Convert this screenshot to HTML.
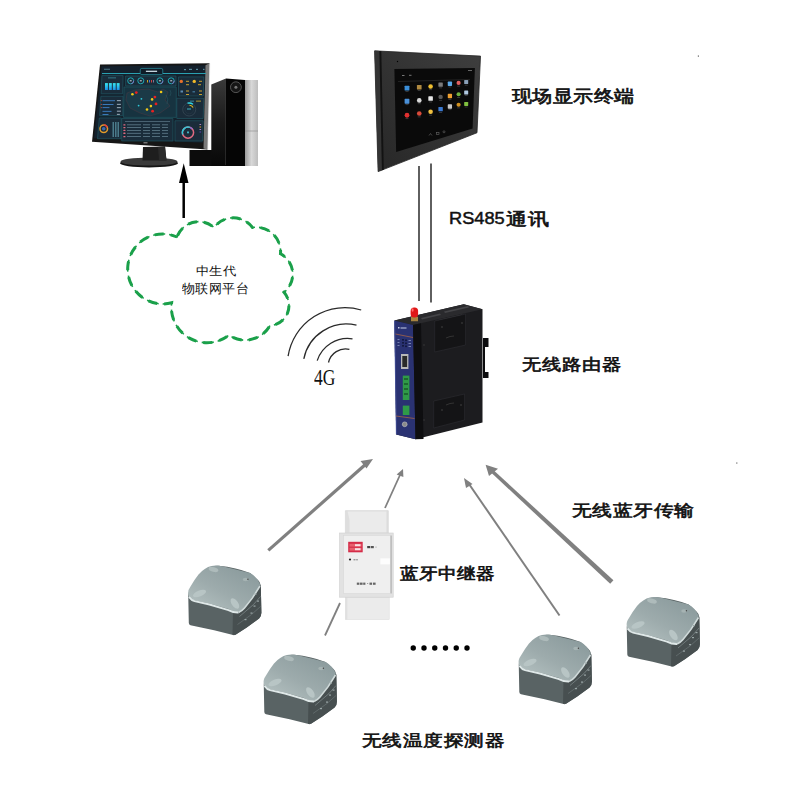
<!DOCTYPE html>
<html><head><meta charset="utf-8">
<style>
html,body{margin:0;padding:0;background:#fff;width:800px;height:800px;overflow:hidden}
svg{position:absolute;left:0;top:0}
.lb{position:absolute;font-family:"Liberation Sans",sans-serif;font-weight:normal;-webkit-text-stroke:0.8px #111;color:#111;white-space:nowrap;line-height:1;transform-origin:0 0}
.sf{position:absolute;font-family:"Liberation Serif",serif;color:#111;white-space:nowrap;line-height:1;transform-origin:0 0}
</style></head><body>
<svg width="800" height="800" viewBox="0 0 800 800">
<defs>
 <linearGradient id="towL" x1="0" y1="0" x2="0" y2="1"><stop offset="0" stop-color="#3a3a3a"/><stop offset="0.5" stop-color="#1a1a1a"/><stop offset="1" stop-color="#080808"/></linearGradient>
 <linearGradient id="frm" x1="0" y1="1" x2="1" y2="0"><stop offset="0" stop-color="#272727"/><stop offset="1" stop-color="#3e3e3e"/></linearGradient>
 <linearGradient id="silver" x1="0" x2="1" y1="0" y2="0">
  <stop offset="0" stop-color="#9a9a9a"/><stop offset="0.5" stop-color="#d8d8d8"/><stop offset="1" stop-color="#bdbdbd"/>
 </linearGradient>
 <linearGradient id="sTop" x1="0.9" y1="0.1" x2="0.2" y2="0.9">
  <stop offset="0" stop-color="#8a9a9c"/><stop offset="0.6" stop-color="#9dabac"/><stop offset="1" stop-color="#b0bdbd"/>
 </linearGradient>
 <linearGradient id="sFront" x1="0" y1="0" x2="1" y2="0">
  <stop offset="0" stop-color="#646e6f"/><stop offset="1" stop-color="#566061"/>
 </linearGradient>
 <g id="sensor">
  <path fill="#596364" d="M626.75,627 L627.3,654.5 Q627.5,656.5 629,656.8 L652.6,661.8 L670.6,666.3 Q672.5,667 674,666.3 L685.25,659 L697.6,650 Q700,647.5 699.9,644 L699.3,617 Q698.5,613 696.5,611.4 L688.6,604.6 Q675,599 657.1,597.3 Q651,597 647,599.6 Q640,604 635.75,610.25 Q631,617 629,621.5 Q626.5,624.5 626.75,627 Z"/>
  <path fill="#474f50" d="M671.5,643 L679.6,642.9 L683,639.5 L690.9,629.4 L697.6,619.25 L699.3,617 L699.9,644 Q700,647.5 697.6,650 L685.25,659 L674,666.3 L671,666.3 Z"/>
  <path fill="url(#sTop)" d="M626.75,626 Q626,622 629,618 Q633,611 637,606 Q643,599 650,597.5 Q655,596.5 662,598 L688.6,604.6 Q695,608 698.75,615.9 Q697,622 690.9,629.4 L683,639.5 Q681,642.5 676,643.5 Q672.5,643.5 667.25,640.6 L648.1,635 L631.25,631.6 Q627,629.5 626.75,626 Z"/>
  <path d="M627.5,628.5 Q630,632 633,632.6 L648,636 L667,641.6 Q672,644.2 677,644" fill="none" stroke="#dfe8e8" stroke-width="1.9"/>
  <path d="M677,644 Q681,642 683,639.5 L691,629.4 L698.5,617.5" fill="none" stroke="#d0dada" stroke-width="1.6"/>
  <path d="M678,648 L692,636 L699,628" fill="none" stroke="#7a8485" stroke-width="0.8"/>
  <path d="M676,656 L690,646 L699,638" fill="none" stroke="#6a7475" stroke-width="0.7"/>
  <ellipse cx="638" cy="625" rx="7" ry="3" fill="#b8c5c5" transform="rotate(-22 638 625)"/>
  <ellipse cx="673.4" cy="635" rx="3.2" ry="6" fill="#b8c5c5" transform="rotate(-35 673.4 635)"/>
  <ellipse cx="652" cy="601" rx="5" ry="2.3" fill="#aebbbb" transform="rotate(15 652 601)"/>
  <ellipse cx="684" cy="611" rx="2.8" ry="1.8" fill="#a6b3b3"/>
  <circle cx="686.4" cy="610.8" r="0.7" fill="#444"/>
  <g fill="#9aa6a6"><rect x="693" y="625" width="2" height="1.2"/><rect x="695.5" y="632" width="2" height="1.2"/><rect x="692" y="637" width="2" height="1.2"/><rect x="689" y="644" width="2" height="1.2"/><rect x="683" y="650.5" width="2" height="1.2"/></g>
 </g>
</defs>

<!-- ============ COMPUTER ============ -->
<g id="computer">
 <!-- tower -->
 <polygon fill="#0c0c0c" points="189.5,150 226,150 226,166 189.5,166"/>
 <polygon fill="url(#towL)" points="211.3,84.6 226,78.5 226,166 211.3,166"/>
 <line x1="225.5" y1="80" x2="225.5" y2="165" stroke="#3a3a3a" stroke-width="0.6"/>
 <polygon fill="#050505" points="226,78.5 245,80 245,166 226,166"/>
 <rect x="245" y="80" width="13" height="86" fill="url(#silver)"/>
 <line x1="245" y1="131" x2="258" y2="131" stroke="#8a8a8a" stroke-width="0.6"/>
 <circle cx="235.9" cy="87.2" r="5.4" fill="#151515" stroke="#555" stroke-width="1"/>
 <circle cx="235.9" cy="87.2" r="1.5" fill="#777"/>
 <!-- stand -->
 <ellipse cx="149" cy="163.2" rx="29" ry="4.2" fill="#151515"/>
 <ellipse cx="149" cy="161.6" rx="28.5" ry="4" fill="#3a3a3a"/>
 <polygon fill="#1e1e1e" points="143,147 165,146.5 166.5,160.5 142.5,160.5"/>
 <polygon fill="#2a2a2a" points="158,147 165,146.5 166.5,160.5 159,160.5"/>
 <!-- monitor bezel -->
 <polygon fill="#161616" points="100,64.5 209.5,63.3 207.5,149.5 92,141.8"/>
 <!-- screen -->
 <polygon fill="#14212d" points="101.5,66.3 205.5,65.3 202.8,142.8 94,138.2"/>
 <polygon fill="#7a7a7a" points="205.5,65.3 209.5,63.3 207.5,149.5 203.5,148.5"/>
 <line x1="209.8" y1="63.5" x2="207.8" y2="149.5" stroke="#e8e8e8" stroke-width="0.8"/>
 <g fill="#1a2c3a" stroke="#22616d" stroke-width="0.55">
  <polygon points="101.9,75.6 123.1,75.6 122.6,93.75 101.2,93.75"/>
  <polygon points="100.9,96.25 123.1,96.25 122.8,115.6 99.6,115.6"/>
  <polygon points="99.3,118 121.25,118 121,138.75 97.5,138.75"/>
  <polygon points="125.6,76 176,76 176,86 125.6,86"/>
  <polygon points="178.5,76.9 203.8,76.9 203.3,96 178.5,96"/>
  <polygon points="176.8,98.25 203.8,98.25 203.2,118.5 176.8,118.5"/>
  <polygon points="175,120.75 203.25,120.75 202.6,141 175,141"/>
  <polygon points="121.7,118.5 172.9,118.5 172.9,141 121.7,141"/>
 </g>
 <polygon fill="#173340" stroke="#22616d" stroke-width="0.55" points="124,87 176.25,87 176.25,117.4 123.5,117.4"/>
 <path d="M127,93 L135,90 L148,89 L158,92 L163,89 L168,92 L165,100 L170,106 L160,113 L150,116 L140,113 L130,108 L126,100 Z" fill="#1b3a47" stroke="#5a3a45" stroke-width="0.4"/>
 <path d="M166,95 q3,4 1,9 M170,90 q2,3 0,6" fill="none" stroke="#2a5a66" stroke-width="0.5"/>
 <line x1="102" y1="73.5" x2="140" y2="73.5" stroke="#2aa0b0" stroke-width="1"/>
 <line x1="163" y1="73.5" x2="206" y2="73.5" stroke="#2aa0b0" stroke-width="1"/>
 <rect x="140.25" y="68.4" width="22.5" height="6.2" rx="1.5" fill="#0f1c28" stroke="#2fa8b8" stroke-width="0.6"/>
 <rect x="145.9" y="70.7" width="11.2" height="1.2" fill="#d8e8f0"/>
 <g fill="#5a8a9a"><rect x="104" y="68.8" width="6" height="0.8"/><rect x="184" y="69" width="2" height="1.2"/><rect x="189" y="68.8" width="3" height="1.2"/><rect x="196" y="68.8" width="2" height="1.2"/><rect x="203" y="68.8" width="1.5" height="1.2"/></g>
 <defs><linearGradient id="cyb" x1="0" y1="0" x2="0" y2="1"><stop offset="0" stop-color="#38e8f0"/><stop offset="1" stop-color="#1a8ee8"/></linearGradient></defs>
 <g fill="url(#cyb)"><rect x="105" y="83.1" width="2.9" height="6.9"/><rect x="108.9" y="83.1" width="2.9" height="6.9"/><rect x="112.8" y="83.1" width="2.9" height="6.9"/><rect x="116.7" y="83.1" width="2.9" height="6.9"/></g>
 <rect x="108" y="77.5" width="8" height="0.8" fill="#3a8a9a"/>
 <g fill="#3a78b8"><rect x="102.5" y="100.2" width="12.5" height="1"/><rect x="102.5" y="104" width="11" height="1"/><rect x="102.5" y="107.1" width="7" height="1"/><rect x="102.5" y="110.85" width="9" height="1"/><rect x="102.5" y="114" width="6" height="1"/></g>
 <g fill="#8a9aa8"><rect x="116.9" y="100" width="4" height="1.2"/><rect x="116.9" y="103.8" width="4" height="1.2"/><rect x="116.9" y="107" width="4" height="1.2"/><rect x="116.9" y="110.6" width="4" height="1.2"/><rect x="116.9" y="113.8" width="3" height="1.2"/></g>
 <g fill="#c04a3a"><circle cx="101.3" cy="100.6" r="0.6"/><circle cx="101.3" cy="104.4" r="0.6"/><circle cx="101.3" cy="107.6" r="0.6"/></g>
 <circle cx="103.75" cy="128.75" r="3.8" fill="none" stroke="#e09a2a" stroke-width="1.5"/>
 <path d="M103.75,124.95 A3.8,3.8 0 0 1 107.3,127.4" fill="none" stroke="#e04040" stroke-width="1.5"/>
 <circle cx="103.75" cy="128.75" r="1.8" fill="#3c6ab0"/>
 <g fill="#4a7a8a"><rect x="112.5" y="122" width="1.5" height="15"/><rect x="115" y="122" width="1.5" height="15"/><rect x="117.5" y="122" width="1.5" height="15"/></g>
 <g fill="none" stroke="#1fb5c0" stroke-width="0.9"><circle cx="130.7" cy="80.8" r="3"/><circle cx="140.8" cy="80.8" r="3"/><circle cx="159.9" cy="80.8" r="3"/><circle cx="171.2" cy="80.8" r="3"/></g>
 <g fill="none" stroke="#8a6ac0" stroke-width="0.9"><path d="M133.7,80.8 A3,3 0 0 1 131.5,83.7"/><path d="M162.9,80.8 A3,3 0 0 1 160.7,83.7"/><path d="M174.2,80.8 A3,3 0 0 1 172,83.7"/></g>
 <g fill="#d0d8e0"><rect x="129.7" y="80.3" width="2" height="1"/><rect x="139.8" y="80.3" width="2" height="1"/><rect x="158.9" y="80.3" width="2" height="1"/><rect x="170.2" y="80.3" width="2" height="1"/></g>
 <g><rect x="147" y="80" width="1" height="2.5" fill="#c0a020"/><rect x="149" y="80" width="1" height="2.5" fill="#3a7ad0"/><rect x="151" y="80" width="1" height="2.5" fill="#d04040"/><rect x="153" y="80" width="1" height="2.5" fill="#7a7a9a"/></g>
 <g>
  <circle cx="136.3" cy="92.6" r="1.4" fill="#e82020"/><circle cx="132.4" cy="94.3" r="1.3" fill="#f0c818"/><circle cx="161.1" cy="92" r="1.3" fill="#f0c818"/>
  <circle cx="154.9" cy="97.1" r="1.4" fill="#e82020"/><circle cx="141.4" cy="98.8" r="0.9" fill="#30c8d8"/><circle cx="152.1" cy="99.4" r="1.3" fill="#f0c818"/>
  <circle cx="156" cy="103.9" r="1.4" fill="#e82020"/><circle cx="138.6" cy="105.6" r="0.9" fill="#30c8d8"/><circle cx="150.9" cy="106.1" r="1.3" fill="#f0c818"/>
  <circle cx="147" cy="109.5" r="1.3" fill="#f0c818"/><circle cx="152.6" cy="111.2" r="1.4" fill="#e82020"/>
 </g>
 <g fill="#e06a80"><rect x="123.3" y="124.2" width="2.2" height="1.3" rx="0.5"/><rect x="123.3" y="127" width="2.2" height="1.3" rx="0.5"/><rect x="123.3" y="129.8" width="2.2" height="1.3" rx="0.5"/><rect x="123.3" y="132.6" width="2.2" height="1.3" rx="0.5"/><rect x="123.3" y="136" width="2.2" height="1.3" rx="0.5"/></g>
 <g fill="#6a8898"><rect x="127" y="124.5" width="14" height="0.7"/><rect x="143" y="124.5" width="7" height="0.7"/><rect x="152" y="124.5" width="8" height="0.7"/><rect x="162" y="124.5" width="6" height="0.7"/>
  <rect x="127" y="127.3" width="14" height="0.7"/><rect x="143" y="127.3" width="7" height="0.7"/><rect x="152" y="127.3" width="8" height="0.7"/><rect x="162" y="127.3" width="6" height="0.7"/>
  <rect x="127" y="130.1" width="14" height="0.7"/><rect x="143" y="130.1" width="7" height="0.7"/><rect x="152" y="130.1" width="8" height="0.7"/><rect x="162" y="130.1" width="6" height="0.7"/>
  <rect x="127" y="132.9" width="14" height="0.7"/><rect x="143" y="132.9" width="7" height="0.7"/><rect x="152" y="132.9" width="8" height="0.7"/><rect x="162" y="132.9" width="6" height="0.7"/>
  <rect x="127" y="136.3" width="14" height="0.7"/><rect x="143" y="136.3" width="7" height="0.7"/><rect x="152" y="136.3" width="8" height="0.7"/><rect x="162" y="136.3" width="6" height="0.7"/>
  <rect x="125" y="121" width="45" height="0.6"/></g>
 <circle cx="181.3" cy="81.4" r="1.7" fill="#e8702a"/><circle cx="194.25" cy="81.4" r="1.7" fill="#f0b828"/>
 <g fill="#c8a030"><rect x="186" y="80.8" width="3" height="1"/><rect x="186" y="84.2" width="3" height="1"/><rect x="199" y="80.8" width="3" height="1"/><rect x="198" y="84.2" width="3" height="1"/><rect x="186" y="90.5" width="3" height="1"/><rect x="186" y="94" width="3" height="1"/><rect x="199" y="90.5" width="3" height="1"/><rect x="199" y="94" width="3" height="1"/></g>
 <rect x="180.5" y="90.5" width="2.5" height="2" fill="#5a8ab0"/><rect x="192.5" y="91" width="2.5" height="1.5" fill="#3a6a8a"/>
 <circle cx="189.2" cy="109.5" r="6.5" fill="none" stroke="#3a4a58" stroke-width="0.7"/>
 <circle cx="189.2" cy="109.5" r="4.3" fill="none" stroke="#2a3a48" stroke-width="0.6"/>
 <path d="M187.5,103.2 A6.5,6.5 0 0 1 193,104.3" fill="none" stroke="#30d8e8" stroke-width="1.3"/>
 <path d="M189.5,105.2 A4.3,4.3 0 0 1 193.1,107.6" fill="none" stroke="#e8c020" stroke-width="1.1"/>
 <rect x="187" y="108.5" width="4" height="1" fill="#40b0c0"/>
 <g fill="#40a0b0"><rect x="190" y="100.7" width="4" height="0.8"/><rect x="196" y="100.7" width="5" height="0.8" fill="#d0b030"/></g>
 <circle cx="188" cy="132.6" r="5.6" fill="none" stroke="#e06a80" stroke-width="1.5"/>
 <path d="M182.7,134.4 A5.6,5.6 0 0 1 190,127.4" fill="none" stroke="#30c8d8" stroke-width="1.5"/>
 <path d="M190,127.4 A5.6,5.6 0 0 1 192.3,129" fill="none" stroke="#8a70d0" stroke-width="1.5"/>
 <rect x="187" y="131.5" width="2" height="1.8" fill="#40b0c0"/>
 <g fill="#b080c0"><rect x="199.5" y="124" width="1.6" height="1"/><rect x="199.5" y="126.5" width="1.6" height="1" fill="#e0a030"/><rect x="199.5" y="129" width="1.6" height="1"/><rect x="199.5" y="131.5" width="1.6" height="1" fill="#6040b0"/></g>
 <rect x="143.5" y="142.2" width="4" height="1.2" fill="#8a8a8a"/>
</g>

<!-- black arrow -->
<line x1="183.7" y1="218" x2="183.7" y2="178" stroke="#000" stroke-width="2.5"/>
<polygon fill="#000" points="183.7,163.3 179,183 188.5,183"/>

<!-- cloud -->
<path d="M177.0,237.0 A23.0,23.0 0 0 1 214.0,227.5 A24.0,24.0 0 0 1 252.5,227.5 A24.5,24.5 0 0 1 280.5,253.8 A23.1,23.1 0 0 1 284.0,292.3 A20.1,20.1 0 0 1 270.0,325.6 A28.7,28.7 0 0 1 228.9,335.2 A35.6,35.6 0 0 1 171.6,302.8 A35.0,35.0 0 1 1 177.0,237.0 Z" fill="none" stroke="#1aa04a" stroke-width="1.6" stroke-dasharray="12 4"/>
<path d="M177.0,237.0 A23.0,23.0 0 0 1 214.0,227.5 A24.0,24.0 0 0 1 252.5,227.5 A24.5,24.5 0 0 1 280.5,253.8 A23.1,23.1 0 0 1 284.0,292.3 A20.1,20.1 0 0 1 270.0,325.6 A28.7,28.7 0 0 1 228.9,335.2 A35.6,35.6 0 0 1 171.6,302.8 A35.0,35.0 0 1 1 177.0,237.0 Z" fill="none" stroke="#1aa04a" stroke-width="3" stroke-dasharray="9 7" stroke-dashoffset="-1.5"/>

<!-- wifi -->
<g fill="none" stroke="#2a2a2a" stroke-width="1.3"><path d="M288.1,356.2 A57.5,57.5 0 0 1 361.2,310.0 "/><path d="M303.8,358.8 A43.5,43.5 0 0 1 356.5,325.2 "/><path d="M317.2,360.6 A32.0,32.0 0 0 1 352.5,338.8 "/><path d="M328.5,362.5 A17.5,17.5 0 0 1 349.4,349.4 "/></g>

<!-- ============ DISPLAY ============ -->
<polygon fill="url(#frm)" stroke="#262626" stroke-width="0.8" points="374.6,50.85 480.5,56.1 477,132.75 378.1,171.6"/>
<polygon fill="#343434" points="374.6,50.85 379.4,51.1 382,170.3 378.1,171.6"/>
<polygon fill="#121212" points="379.4,51.1 381.3,51.2 383.8,169.8 382,170.3"/>
<polygon fill="#0a0a0a" points="394.4,68.9 474.9,68 472.6,128.4 396.15,152"/>
<circle cx="397.5" cy="61.5" r="0.7" fill="#000"/>
<g id="apps">
 <rect x="404.60" y="85.70" width="4.80" height="4.80" rx="0.6" fill="#3b8fd9"/>
 <rect x="405.50" y="91.30" width="3" height="0.6" fill="#555"/>
 <rect x="416.92" y="84.92" width="4.67" height="4.67" rx="0.6" fill="#b08a40"/>
 <rect x="417.75" y="90.38" width="3" height="0.6" fill="#555"/>
 <circle cx="430.6" cy="86.4" r="2.27" fill="#f0c030"/>
 <rect x="429.10" y="89.47" width="3" height="0.6" fill="#555"/>
 <rect x="438.40" y="82.39" width="4.41" height="4.41" rx="0.6" fill="#7a7a7a"/>
 <rect x="439.10" y="87.60" width="3" height="0.6" fill="#555"/>
 <rect x="447.76" y="81.61" width="4.28" height="4.28" rx="0.6" fill="#5aa8e8"/>
 <rect x="448.40" y="86.69" width="3" height="0.6" fill="#555"/>
 <circle cx="458.6" cy="82.9" r="2.07" fill="#e06060"/>
 <rect x="457.10" y="85.78" width="3" height="0.6" fill="#555"/>
 <rect x="464.19" y="79.99" width="4.02" height="4.02" rx="0.6" fill="#8aa0b8"/>
 <rect x="464.70" y="84.81" width="3" height="0.6" fill="#555"/>
 <rect x="404.60" y="98.85" width="4.80" height="4.80" rx="0.6" fill="#4a90d8"/>
 <rect x="405.50" y="104.45" width="3" height="0.6" fill="#555"/>
 <circle cx="419.25" cy="100.4" r="2.33" fill="#d8d8d8"/>
 <rect x="417.75" y="103.53" width="3" height="0.6" fill="#555"/>
 <rect x="428.33" y="96.33" width="4.54" height="4.54" rx="0.6" fill="#e8e8e8"/>
 <rect x="429.10" y="101.67" width="3" height="0.6" fill="#555"/>
 <circle cx="440.6" cy="96.9" r="2.21" fill="#5a5a5a"/>
 <rect x="439.10" y="99.91" width="3" height="0.6" fill="#555"/>
 <rect x="447.76" y="93.86" width="4.28" height="4.28" rx="0.6" fill="#f0a030"/>
 <rect x="448.40" y="98.94" width="3" height="0.6" fill="#555"/>
 <circle cx="458.6" cy="94.25" r="2.07" fill="#70b040"/>
 <rect x="457.10" y="97.12" width="3" height="0.6" fill="#555"/>
 <rect x="464.19" y="90.49" width="4.02" height="4.02" rx="0.6" fill="#b0c8e0"/>
 <rect x="464.70" y="95.31" width="3" height="0.6" fill="#555"/>
 <circle cx="407" cy="115.25" r="2.40" fill="#e03030"/>
 <rect x="405.50" y="118.45" width="3" height="0.6" fill="#555"/>
 <circle cx="419.25" cy="113.5" r="2.33" fill="#d84a3a"/>
 <rect x="417.75" y="116.63" width="3" height="0.6" fill="#555"/>
 <circle cx="430.6" cy="111.75" r="2.27" fill="#f0c040"/>
 <rect x="429.10" y="114.82" width="3" height="0.6" fill="#555"/>
 <rect x="438.40" y="106.89" width="4.41" height="4.41" rx="0.6" fill="#3a78d0"/>
 <rect x="439.10" y="112.10" width="3" height="0.6" fill="#555"/>
 <rect x="447.76" y="104.36" width="4.28" height="4.28" rx="0.6" fill="#c8c8c8"/>
 <rect x="448.40" y="109.44" width="3" height="0.6" fill="#555"/>
 <circle cx="458.6" cy="104.75" r="2.07" fill="#d09020"/>
 <rect x="457.10" y="107.62" width="3" height="0.6" fill="#555"/>
 <rect x="464.19" y="101.89" width="4.02" height="4.02" rx="0.6" fill="#80c040"/>
 <rect x="464.70" y="106.71" width="3" height="0.6" fill="#555"/>
 <line x1="398" y1="81.5" x2="470" y2="79.5" stroke="#3a3a3a" stroke-width="0.5"/>
 <rect x="402" y="75" width="2.5" height="1" fill="#777"/><rect x="409" y="74.8" width="2.5" height="1" fill="#777"/>
 <rect x="468" y="70" width="4" height="1" fill="#666"/>
 <g fill="none" stroke="#666" stroke-width="0.6"><path d="M429,135.5 l1.5,-2 l1.5,2"/><rect x="436.5" y="132.5" width="2.5" height="2"/><circle cx="444" cy="131.8" r="1"/></g>
</g>

<!-- RS485 lines -->
<line x1="419" y1="166" x2="419" y2="301" stroke="#383838" stroke-width="1.6"/>
<line x1="431" y1="163.6" x2="431" y2="302.4" stroke="#383838" stroke-width="1.6"/>

<!-- ============ ROUTER ============ -->
<g id="router">
 <polygon fill="#0c0c0e" points="483,338 488.5,338 488.5,347 485,347 485,372 488.5,372 488.5,378 483,378"/>
 <polygon fill="#1c1c1f" points="394.4,320.5 463.75,304.25 482.5,309.25 482.5,422.4 415.5,439.3 396.2,434.6"/>
 <polygon fill="#2a2a2d" points="394.4,320.5 463.75,304.25 482.5,309.25 413,325"/>
 <g fill="#454548"><polygon points="421,318 440,313.5 441,315 422,319.5"/><polygon points="438,320 462,314.5 463,316 439,321.5"/><polygon points="444,311.5 468,306 469,307.5 445,313"/></g>
 <polygon fill="#141416" stroke="#2e2e32" stroke-width="0.6" points="434.7,321 465.6,314 465.6,345 434.7,352"/>
 <polygon fill="#141416" stroke="#2e2e32" stroke-width="0.6" points="433.7,401 464.6,394 464.6,420 433.7,428"/>
 <circle cx="442" cy="327" r="0.8" fill="#444"/><circle cx="462" cy="323" r="0.8" fill="#444"/><circle cx="442" cy="410" r="0.8" fill="#444"/><circle cx="461" cy="405" r="0.8" fill="#444"/>
 <circle cx="424" cy="345" r="0.8" fill="#3a3a3a"/><circle cx="424" cy="420" r="0.8" fill="#3a3a3a"/>
 <path d="M446,338 q4,-2 8,-2 M446,405 q4,-2 8,-2" stroke="#333" stroke-width="1" fill="none"/>
 <polygon fill="#2a3272" points="394.4,320.5 413,325 415.5,439.3 396.2,434.6"/>
 <line x1="394.6" y1="321" x2="396.4" y2="434.3" stroke="#4654a0" stroke-width="0.8"/>
 <polygon fill="#0e0e10" points="413,325 421,323.2 423.5,439 415.5,439.3"/>
 <line x1="395.5" y1="334" x2="413" y2="337.5" stroke="#b86a40" stroke-width="0.7"/>
 <line x1="396" y1="416" x2="414.5" y2="418.5" stroke="#b86a40" stroke-width="0.7"/>
 <g fill="#c8d0e8"><rect x="398" y="327" width="1.5" height="1.5"/><rect x="400.5" y="327.5" width="6" height="1"/></g>
 <g fill="#141a40"><rect x="402" y="339" width="2" height="1.6"/><rect x="405" y="339.5" width="2" height="1.6"/><rect x="402" y="342" width="2" height="1.6"/><rect x="405" y="342.5" width="2" height="1.6"/><rect x="402" y="345" width="2" height="1.6"/><rect x="405" y="345.5" width="2" height="1.6"/></g>
 <g fill="#8a94c0"><rect x="397.5" y="339" width="2" height="0.8"/><rect x="397.5" y="342" width="2" height="0.8"/><rect x="397.5" y="345" width="2" height="0.8"/><rect x="408.5" y="340" width="2.5" height="0.8"/><rect x="408.5" y="343" width="2.5" height="0.8"/><rect x="408.5" y="346" width="2.5" height="0.8"/></g>
 <rect x="401" y="354" width="7.4" height="15" fill="#b8b8b8"/>
 <rect x="402.3" y="356" width="4.8" height="11" fill="#2a2a2a"/>
 <rect x="402.8" y="375.6" width="6.6" height="24.4" fill="#2f9a48"/>
 <g fill="#1d6a30"><rect x="404" y="378" width="4" height="2"/><rect x="404" y="383" width="4" height="2"/><rect x="404" y="388" width="4" height="2"/><rect x="404" y="393" width="4" height="2"/></g>
 <rect x="402.8" y="405.6" width="6.6" height="9.4" fill="#2f9a48"/>
 <circle cx="404.7" cy="424.3" r="2.4" fill="#8a8a8a" stroke="#c8c8c8" stroke-width="0.6"/>
 <rect x="411" y="316.75" width="7" height="4.5" fill="#a88440"/>
 <rect x="410.6" y="307.5" width="7.5" height="10" rx="3.5" fill="#e01818"/>
 <ellipse cx="412.6" cy="310" rx="1" ry="1.8" fill="#ff7070"/>
</g>

<!-- ============ ARROWS ============ -->
<g stroke="#808080" fill="#808080">
 <line x1="268.3" y1="550.4" x2="366" y2="464" stroke-width="3.2"/>
 <polygon stroke="none" points="373,459 360.5,461 366.5,468.5"/>
 <line x1="385" y1="508" x2="400" y2="475" stroke-width="1.8"/>
 <polygon stroke="none" points="403,469 396.6,474.6 403.4,477"/>
 <line x1="559.5" y1="615.5" x2="469" y2="484" stroke-width="2"/>
 <polygon stroke="none" points="464,478 466,488 472.5,484"/>
 <polygon stroke="none" points="491.85,473.25 494.15,470.75 613.43,580.24 610.17,583.76"/>
 <polygon stroke="none" points="485.6,464.7 498,468.8 489,476"/>
 <line x1="325" y1="635.5" x2="340" y2="603" stroke-width="1.8"/>
</g>

<!-- ============ REPEATER ============ -->
<g id="repeater">
 <polygon fill="#ebebeb" stroke="#d4d4d4" stroke-width="0.6" points="345.4,510.7 388.3,510.7 388.3,533 345.4,533"/>
 <polygon fill="#dedede" points="345.4,510.7 347.5,510.7 349.5,520 349.5,533 345.4,533"/>
 <line x1="345.6" y1="511" x2="388" y2="511" stroke="#d8d8d8" stroke-width="0.6"/>
 <rect x="386.5" y="510.7" width="1.8" height="22.3" fill="#dcdcdc"/>
 <rect x="345.4" y="597" width="43.8" height="22.6" fill="#ebebeb" stroke="#dadada" stroke-width="0.5"/>
 <rect x="345.4" y="597" width="2" height="22.6" fill="#e0e0e0"/>
 <rect x="339.6" y="533" width="53.6" height="64.2" fill="#e2e2e2" stroke="#cfcfcf" stroke-width="0.6"/>
 <rect x="343.6" y="535.5" width="47" height="58" fill="#efefef" stroke="#d6d6d6" stroke-width="0.5"/>
 <rect x="390.6" y="535.5" width="1" height="58" fill="#a8a8a8"/>
 <rect x="380.4" y="558.3" width="9.5" height="6" fill="#fdfdfd"/>
 <rect x="348.2" y="541.8" width="14.5" height="10.5" fill="#d42c48"/>
 <rect x="349.5" y="543.8" width="12" height="2.8" fill="#e8606e"/>
 <rect x="349.5" y="547.8" width="12" height="2.8" fill="#e8606e"/>
 <rect x="355" y="544.2" width="5.5" height="2" fill="#f8e0e4"/>
 <rect x="355" y="548.2" width="5.5" height="2" fill="#f8e0e4"/>
 <rect x="367.2" y="546" width="3" height="2.2" fill="#444"/><rect x="370.8" y="546" width="3" height="2.2" fill="#555"/><rect x="375.5" y="546.6" width="1" height="1" fill="#999"/>
 <circle cx="350" cy="559.5" r="1.1" fill="#222"/>
 <rect x="353.5" y="559" width="2" height="1.4" fill="#999"/><rect x="356" y="559" width="2" height="1.4" fill="#aaa"/>
 <g fill="#666"><rect x="356.8" y="582.6" width="2.6" height="2.2"/><rect x="360" y="582.6" width="2.6" height="2.2"/><rect x="363.2" y="582.6" width="2.2" height="2.2"/><rect x="367" y="583.4" width="1.2" height="0.6"/><rect x="369.5" y="582.6" width="2.6" height="2.2"/><rect x="373" y="582.6" width="2.6" height="2.2"/></g>
</g>

<!-- sensors -->
<use href="#sensor" transform="translate(-438.5 -31.5)"/>
<use href="#sensor" transform="translate(-363 57.5)"/>
<use href="#sensor" transform="translate(-108 37.5)"/>
<use href="#sensor"/>

<rect x="736.2" y="462.4" width="1.2" height="1.3" fill="#777"/>
<rect x="697.8" y="55.4" width="1.2" height="1.4" fill="#777"/>
<!-- dots -->
<g fill="#000">
 <circle cx="413.25" cy="648" r="2.7"/><circle cx="424" cy="648" r="2.7"/><circle cx="434.75" cy="648" r="2.7"/>
 <circle cx="445.5" cy="648" r="2.7"/><circle cx="456.25" cy="648" r="2.7"/><circle cx="467" cy="648" r="2.7"/>
</g>
</svg>

<div class="lb" id="t1" style="left:512.45px;top:87.72px;font-size:20.5px;transform:scale(0.972,0.824)">现场显示终端</div>
<div class="lb" id="t2a" style="left:449.43px;top:210.36px;font-size:18.8px;-webkit-text-stroke:0.55px;transform:scale(0.970,0.913)">RS485</div>
<div class="lb" id="t2b" style="left:506.39px;top:211.05px;font-size:20.5px;transform:scale(1.031,0.833)">通讯</div>
<div class="lb" id="t3" style="left:522.13px;top:355.62px;font-size:20.5px;transform:scale(0.956,0.795)">无线路由器</div>
<div class="lb" id="t4" style="left:572.48px;top:502.63px;font-size:20.5px;transform:scale(0.973,0.786)">无线蓝牙传输</div>
<div class="lb" id="t5" style="left:400.17px;top:566.06px;font-size:19.5px;transform:scale(0.956,0.825)">蓝牙中继器</div>
<div class="lb" id="t6" style="left:362.16px;top:733.30px;font-size:20.5px;transform:scale(0.973,0.793)">无线温度探测器</div>
<div class="sf" id="t7" style="left:195.94px;top:265.48px;font-size:13.5px;transform:scale(0.961,0.871)">中生代</div>
<div class="sf" id="t8" style="left:182.03px;top:281.52px;font-size:13.5px;transform:scale(0.964,0.962)">物联网平台</div>
<div class="sf" id="t9" style="left:314.00px;top:366.19px;font-size:20px;transform:scale(0.875,1.114)">4G</div>
</body></html>
